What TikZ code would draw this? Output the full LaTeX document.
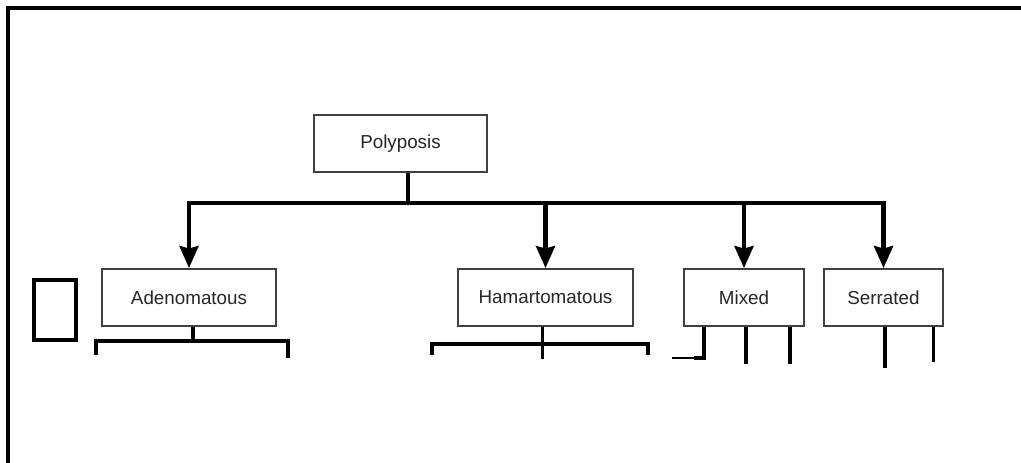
\documentclass[tikz,border=0pt]{standalone}
\usepackage{fontspec}
\setmainfont{Liberation Sans}
\usetikzlibrary{arrows.meta}

\tikzset{
  box/.style={draw=black!75, line width=1.1pt, fill=white, inner sep=0pt,
    minimum height=1.14cm, text=black!85, font=\fontsize{10.7}{13}\selectfont},
  bus/.style={line width=2.4pt},
  arrow/.style={bus, -{Stealth[width=0.38cm, length=0.44cm, inset=0.05cm]}},
  leg/.style={line width=2.2pt}
}

\begin{document}
\begin{tikzpicture}[x=0.02cm, y=-0.02cm]
  \useasboundingbox (0,0) rectangle (1021,463);
  % frame and the small box
  \draw[line width=2.3pt] (1021,8) -- (8,8) -- (8,463);
  \draw[line width=2.2pt] (34,280) rectangle (76,340);

  \node[box, minimum width=3.46cm] (poly) at (400.5,143.5) {Polyposis};
  \node[box, minimum width=3.48cm] (ade) at (189,297.5) {Adenomatous};
  \node[box, minimum width=3.5cm] (ham) at (545.5,297.5) {Hamartomatous};
  \node[box, minimum width=2.4cm] (mix) at (744,297.5) {Mixed};
  \node[box, minimum width=2.38cm] (ser) at (883.5,297.5) {Serrated};

  % bus and arrows
  \coordinate (bus) at (408,203);
  \draw[bus] (poly.south -| bus) -- (bus);
  \draw[arrow] (bus) -| (ade.north);
  \draw[arrow] (bus) -| (ser.north);
  \foreach \n in {ham,mix} {
    \draw[arrow] (\n.north |- bus) -- (\n.north);
  }

  % legs below the boxes
  \draw[leg] (ade.south) ++(4,0) -- ++(0,15);
  \draw[leg] (96,355) -- (96,341) -- (288,341) -- (288,358);
  \draw[leg] (ham.south) ++(-3,0) -- ++(0,32);
  \draw[leg] (432,355) -- (432,344) -- (648,344) -- (648,355);
  \draw[leg] (mix.south) ++(-40,0) -- ++(0,31) -- ++(-10,0);
  \draw[line width=1.2pt] (mix.south) ++(-50,31) -- ++(-22,0);
  \foreach \dx in {2,46} {
    \draw[leg] (mix.south) ++(\dx,0) -- ++(0,37);
  }
  \draw[line width=2.5pt] (ser.south) ++(1.5,0) -- ++(0,41);
  \draw[line width=1.7pt] (ser.south) ++(49.5,0) -- ++(0,35);
\end{tikzpicture}
\end{document}
